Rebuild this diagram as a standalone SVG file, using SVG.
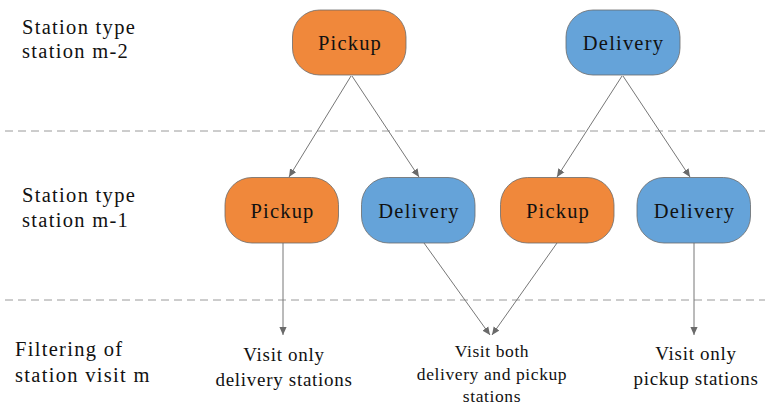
<svg xmlns="http://www.w3.org/2000/svg" width="768" height="406" viewBox="0 0 768 406">
  <style>
    .side { font-size: 20.5px; letter-spacing: 1.3px; }
    .lbl { font-size: 20.5px; letter-spacing: 1.2px; text-anchor: middle; }
    .out { font-size: 19px; letter-spacing: 0.7px; text-anchor: middle; }
    .mid { font-size: 17.5px; letter-spacing: 0.6px; text-anchor: middle; }
    .pick { fill: #F0883B; stroke: #6b6b6b; stroke-width: 0.8; }
    .deliv { fill: #65A3D9; stroke: #6b6b6b; stroke-width: 0.8; }
    .sep { stroke: #9a9a9a; stroke-width: 1; stroke-dasharray: 8 5; fill: none; }
    .edge { stroke: #777; stroke-width: 1; fill: none; marker-end: url(#arrow); }
  </style>
  <defs>
    <marker id="arrow" viewBox="0 0 10 10" refX="10" refY="5" markerWidth="8" markerHeight="8" markerUnits="userSpaceOnUse" orient="auto">
      <path d="M0,0.5 L10,5 L0,9.5 z" fill="#6a6a6a"/>
    </marker>
  </defs>

  <rect width="768" height="406" fill="#ffffff"/>

  <!-- row separators -->
  <g id="separators">
    <line class="sep" x1="5" y1="131" x2="765" y2="131"/>
    <line class="sep" x1="5" y1="300" x2="765" y2="300"/>
  </g>

  <g font-family="Liberation Serif, DejaVu Serif, serif" fill="#111">
  <!-- row captions -->
  <g id="caption-m2">
    <text class="side" x="22" y="34">Station type</text>
    <text class="side" x="22" y="58">station m-2</text>
  </g>
  <g id="caption-m1">
    <text class="side" x="22" y="202">Station type</text>
    <text class="side" x="22" y="227">station m-1</text>
  </g>
  <g id="caption-m">
    <text class="side" x="15" y="356">Filtering of</text>
    <text class="side" x="15" y="382">station visit m</text>
  </g>
  </g>

  <!-- connectors -->
  <g id="connectors">
    <line class="edge" x1="351" y1="76" x2="289" y2="177"/>
    <line class="edge" x1="352" y1="76" x2="419" y2="177"/>
    <line class="edge" x1="622" y1="76" x2="557" y2="177"/>
    <line class="edge" x1="623" y1="76" x2="690" y2="177"/>
    <line class="edge" x1="283" y1="243" x2="283" y2="335"/>
    <line class="edge" x1="424" y1="243" x2="490" y2="335"/>
    <line class="edge" x1="557" y1="243" x2="492" y2="335"/>
    <line class="edge" x1="694" y1="243" x2="694" y2="335"/>
  </g>

  <g font-family="Liberation Serif, DejaVu Serif, serif" fill="#111">
  <!-- level m-2 -->
  <g id="pickup-m2">
    <rect class="pick" x="292.5" y="10" width="113.5" height="65" rx="27" ry="27"/>
    <text class="lbl" x="350" y="50">Pickup</text>
  </g>
  <g id="delivery-m2">
    <rect class="deliv" x="566" y="10" width="114" height="65" rx="27" ry="27"/>
    <text class="lbl" x="623.5" y="50">Delivery</text>
  </g>

  <!-- level m-1 -->
  <g id="pickup-m1a">
    <rect class="pick" x="225" y="177.5" width="113.5" height="65.5" rx="27" ry="27"/>
    <text class="lbl" x="282.5" y="218">Pickup</text>
  </g>
  <g id="delivery-m1a">
    <rect class="deliv" x="361.5" y="177.5" width="113.5" height="65.5" rx="27" ry="27"/>
    <text class="lbl" x="419" y="218">Delivery</text>
  </g>
  <g id="pickup-m1b">
    <rect class="pick" x="500.5" y="177.5" width="113.5" height="65.5" rx="27" ry="27"/>
    <text class="lbl" x="558" y="218">Pickup</text>
  </g>
  <g id="delivery-m1b">
    <rect class="deliv" x="637" y="177.5" width="113.5" height="65.5" rx="27" ry="27"/>
    <text class="lbl" x="694.5" y="218">Delivery</text>
  </g>

  <!-- filtering outcomes -->
  <g id="only-delivery">
    <text class="out" x="284" y="361">Visit only</text>
    <text class="out" x="284" y="386">delivery stations</text>
  </g>
  <g id="both">
    <text class="mid" x="492" y="357">Visit both</text>
    <text class="mid" x="492" y="380">delivery and pickup</text>
    <text class="mid" x="492" y="402">stations</text>
  </g>
  <g id="only-pickup">
    <text class="out" x="696" y="360">Visit only</text>
    <text class="out" x="696" y="385">pickup stations</text>
  </g>
  </g>
</svg>
